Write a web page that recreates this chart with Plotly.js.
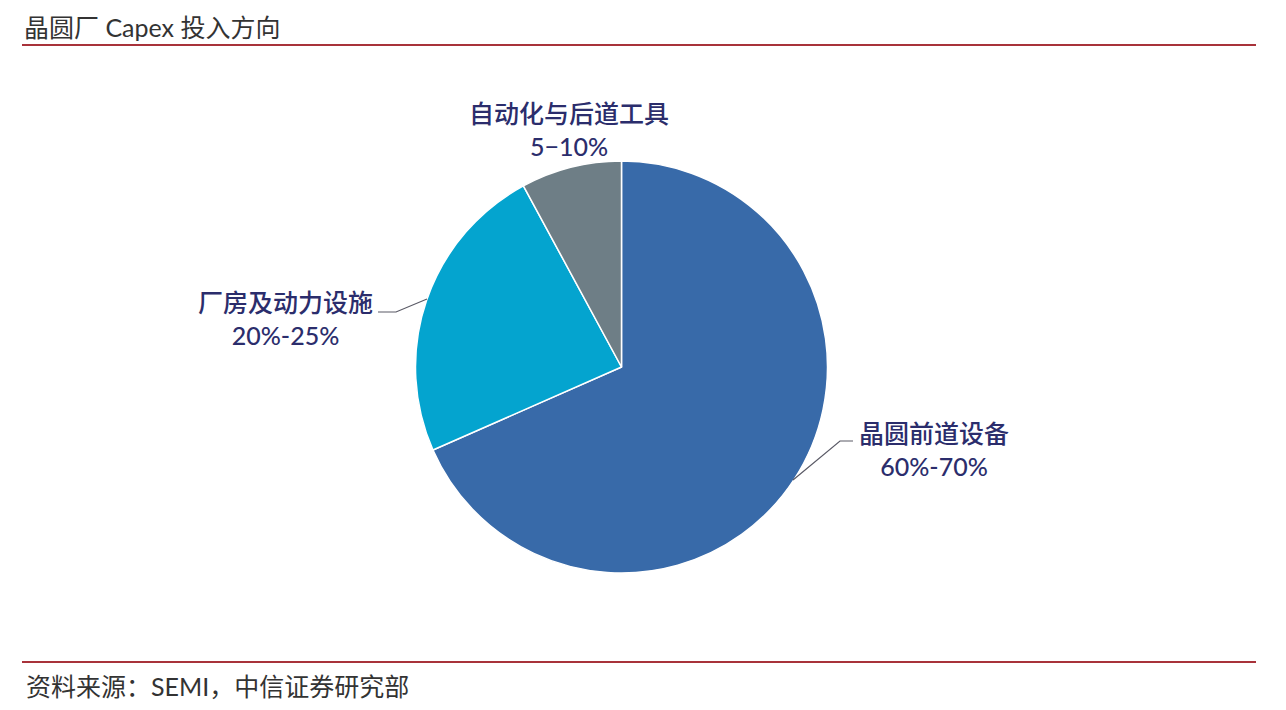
<!DOCTYPE html>
<html><head><meta charset="utf-8">
<script src="https://cdn.plot.ly/plotly-3.0.1.min.js"></script>
<style>html,body{margin:0;padding:0;background:#fff}#chart{width:1286px;height:710px}</style>
</head><body><div id="chart"></div>
<script>
const categories = ["晶圆前道设备", "厂房及动力设施", "自动化与后道工具"];
const shareValues = [68.4, 23.7, 7.9];
const rangeLabels = ["60%-70%", "20%-25%", "5−10%"];
const sliceColors = ["#386AA9", "#04A4CF", "#6E7E86"];

const W = 1286, H = 710;
const px = x => x / W, py = y => 1 - y / H;
const FONT = "Lato, 'Noto Sans CJK SC', sans-serif";
const labelColor = "#2B2D6C";

const data = [{
  type: "pie",
  labels: categories,
  values: shareValues,
  sort: false,
  direction: "clockwise",
  rotation: 0,
  textinfo: "none",
  hoverinfo: "label+percent",
  marker: {colors: sliceColors, line: {color: "#ffffff", width: 1.5}},
  domain: {x: [px(415), px(828)], y: [py(573), py(161)]},
  showlegend: false
}];

const labelPos = [
  {x: 934, y: 449},
  {x: 285, y: 318},
  {x: 569, y: 130}
];

const annotations = categories.map((c, i) => ({
  xref: "paper", yref: "paper",
  x: px(labelPos[i].x), y: py(labelPos[i].y),
  xanchor: "center", yanchor: "middle",
  text: c + "<br>" + rangeLabels[i],
  showarrow: false,
  align: "center",
  font: {family: FONT, size: 25, color: labelColor, weight: 500}
}));

annotations.push({
  xref: "paper", yref: "paper",
  x: px(24), y: py(686), xanchor: "left", yanchor: "middle",
  text: "资料来源：SEMI，中信证券研究部", showarrow: false,
  font: {family: FONT, size: 25, color: "#333333"}
});

const lineStyle = {color: "#5A5A66", width: 1.2};
const shapes = [
  {type: "line", xref: "paper", yref: "paper", x0: px(22), x1: px(1256), y0: py(45), y1: py(45), line: {color: "#A8323A", width: 2}},
  {type: "line", xref: "paper", yref: "paper", x0: px(22), x1: px(1256), y0: py(662), y1: py(662), line: {color: "#A8323A", width: 2}},
  {type: "path", xref: "paper", yref: "paper",
   path: `M ${px(378)} ${py(312)} L ${px(396)} ${py(312)} L ${px(427)} ${py(299)}`, line: lineStyle},
  {type: "path", xref: "paper", yref: "paper",
   path: `M ${px(793)} ${py(480)} L ${px(840)} ${py(441)} L ${px(853)} ${py(441)}`, line: lineStyle}
];

const layout = {
  width: W, height: H,
  margin: {l: 0, r: 0, t: 0, b: 0},
  paper_bgcolor: "#ffffff",
  title: {
    text: "晶圆厂 Capex 投入方向",
    x: px(24), xanchor: "left", xref: "paper",
    y: 1 - 28 / H, yanchor: "middle", yref: "container",
    font: {family: FONT, size: 25, color: "#333333"}
  },
  annotations: annotations,
  shapes: shapes
};

Plotly.newPlot("chart", data, layout, {displayModeBar: false, staticPlot: true});
</script></body></html>
